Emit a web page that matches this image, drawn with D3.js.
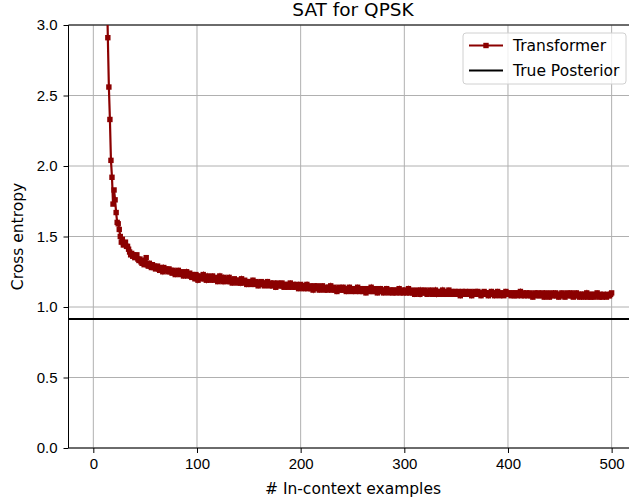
<!DOCTYPE html>
<html>
<head>
<meta charset="utf-8">
<script src="https://cdn.jsdelivr.net/npm/d3@7"></script>
<style>
  body { margin: 0; background: #fff; }
  svg { font-family: "DejaVu Sans", sans-serif; }
</style>
</head>
<body>
<div id="chart"></div>
<script>
// Transformer cross entropy, one value per number of in-context examples (1..500)
const transformerCE = [
  9.80, 8.90, 8.10, 7.30, 6.60, 5.90, 5.30, 4.80, 4.40, 4.05,
  3.75, 3.50, 3.30, 2.91, 2.56, 2.33, 2.04, 1.92, 1.73, 1.83,
  1.76, 1.67, 1.60, 1.59, 1.55, 1.50, 1.46, 1.48, 1.44, 1.45,
  1.46, 1.43, 1.43, 1.41, 1.39, 1.37, 1.38, 1.36, 1.37, 1.35,
  1.36, 1.37, 1.34, 1.33, 1.34, 1.32, 1.31, 1.33, 1.30, 1.31,
  1.35, 1.30, 1.29, 1.31, 1.29, 1.28, 1.30, 1.28, 1.29, 1.27,
  1.28, 1.29, 1.27, 1.26, 1.28, 1.27, 1.25, 1.28, 1.26, 1.27,
  1.26, 1.25, 1.27, 1.25, 1.26, 1.24, 1.26, 1.25, 1.23, 1.25,
  1.24, 1.26, 1.24, 1.23, 1.25, 1.24, 1.22, 1.24, 1.23, 1.25,
  1.22, 1.23, 1.24, 1.22, 1.21, 1.23, 1.22, 1.20, 1.23, 1.22,
  1.19, 1.21, 1.22, 1.20, 1.21, 1.23, 1.20, 1.21, 1.19, 1.22,
  1.20, 1.21, 1.19, 1.20, 1.22, 1.20, 1.19, 1.21, 1.20, 1.18,
  1.20, 1.22, 1.19, 1.20, 1.18, 1.21, 1.19, 1.20, 1.18, 1.19,
  1.21, 1.18, 1.19, 1.17, 1.19, 1.20, 1.18, 1.19, 1.17, 1.18,
  1.19, 1.17, 1.20, 1.18, 1.17, 1.19, 1.18, 1.16, 1.18, 1.17,
  1.18, 1.16, 1.17, 1.19, 1.17, 1.16, 1.18, 1.17, 1.15, 1.17,
  1.16, 1.18, 1.17, 1.16, 1.15, 1.17, 1.16, 1.18, 1.16, 1.15,
  1.17, 1.16, 1.15, 1.17, 1.16, 1.14, 1.16, 1.17, 1.15, 1.16,
  1.15, 1.17, 1.15, 1.14, 1.16, 1.15, 1.16, 1.14, 1.15, 1.17,
  1.15, 1.14, 1.16, 1.15, 1.14, 1.16, 1.15, 1.13, 1.15, 1.16,
  1.14, 1.15, 1.13, 1.15, 1.14, 1.16, 1.13, 1.14, 1.15, 1.13,
  1.14, 1.12, 1.15, 1.14, 1.13, 1.15, 1.14, 1.12, 1.14, 1.13,
  1.15, 1.13, 1.12, 1.14, 1.13, 1.12, 1.14, 1.13, 1.15, 1.12,
  1.13, 1.14, 1.12, 1.13, 1.11, 1.13, 1.14, 1.12, 1.13, 1.12,
  1.14, 1.12, 1.13, 1.11, 1.13, 1.12, 1.14, 1.12, 1.11, 1.13,
  1.12, 1.13, 1.11, 1.12, 1.14, 1.12, 1.11, 1.13, 1.12, 1.11,
  1.13, 1.12, 1.10, 1.12, 1.13, 1.11, 1.12, 1.14, 1.11, 1.12,
  1.11, 1.13, 1.12, 1.10, 1.12, 1.11, 1.13, 1.11, 1.12, 1.10,
  1.12, 1.11, 1.13, 1.11, 1.10, 1.12, 1.11, 1.12, 1.10, 1.12,
  1.11, 1.10, 1.12, 1.11, 1.13, 1.10, 1.11, 1.12, 1.10, 1.11,
  1.12, 1.10, 1.11, 1.13, 1.10, 1.11, 1.12, 1.10, 1.11, 1.09,
  1.11, 1.12, 1.10, 1.11, 1.09, 1.12, 1.10, 1.11, 1.10, 1.12,
  1.10, 1.09, 1.11, 1.10, 1.12, 1.10, 1.09, 1.11, 1.10, 1.12,
  1.09, 1.11, 1.10, 1.09, 1.11, 1.10, 1.12, 1.09, 1.10, 1.11,
  1.09, 1.10, 1.12, 1.10, 1.09, 1.11, 1.10, 1.09, 1.11, 1.10,
  1.09, 1.11, 1.10, 1.08, 1.10, 1.11, 1.09, 1.10, 1.11, 1.09,
  1.10, 1.09, 1.11, 1.10, 1.08, 1.10, 1.09, 1.11, 1.10, 1.09,
  1.11, 1.09, 1.10, 1.08, 1.10, 1.09, 1.11, 1.10, 1.09, 1.10,
  1.08, 1.10, 1.09, 1.11, 1.09, 1.10, 1.08, 1.10, 1.09, 1.11,
  1.09, 1.08, 1.10, 1.09, 1.10, 1.08, 1.09, 1.11, 1.09, 1.10,
  1.09, 1.10, 1.08, 1.09, 1.10, 1.08, 1.10, 1.09, 1.08, 1.10,
  1.09, 1.11, 1.08, 1.09, 1.10, 1.08, 1.09, 1.10, 1.08, 1.09,
  1.10, 1.08, 1.09, 1.07, 1.09, 1.10, 1.08, 1.09, 1.10, 1.08,
  1.09, 1.08, 1.10, 1.09, 1.07, 1.09, 1.10, 1.08, 1.09, 1.07,
  1.09, 1.10, 1.08, 1.09, 1.08, 1.10, 1.08, 1.09, 1.07, 1.09,
  1.08, 1.10, 1.08, 1.09, 1.07, 1.09, 1.10, 1.08, 1.09, 1.08,
  1.10, 1.08, 1.07, 1.09, 1.08, 1.10, 1.08, 1.09, 1.07, 1.09,
  1.08, 1.09, 1.07, 1.09, 1.08, 1.10, 1.07, 1.08, 1.09, 1.07,
  1.09, 1.08, 1.07, 1.09, 1.08, 1.10, 1.08, 1.07, 1.09, 1.08,
  1.07, 1.09, 1.08, 1.08, 1.07, 1.09, 1.08, 1.08, 1.09, 1.10
];
const truePosterior = 0.915;
const xTicks = [0, 100, 200, 300, 400, 500];
const yTicks = [0.0, 0.5, 1.0, 1.5, 2.0, 2.5, 3.0];
const seriesNames = ["Transformer", "True Posterior"];

const W = 629, H = 501;
const margin = { left: 69, top: 25, bottom: 53 };
const data = transformerCE.map((v, i) => ({ n: i + 1, ce: v }));

const svg = d3.select("#chart").append("svg")
    .attr("width", W)
    .attr("height", H);

// x axis runs past the right edge of the picture (cropped figure)
const x = d3.scaleLinear().domain([-23.95, 524.95]).range([68.5, 637.5]);
const y = d3.scaleLinear().domain([0, 3]).range([H - margin.bottom, margin.top]);

svg.append("defs").append("clipPath").attr("id", "clip")
    .append("rect")
    .attr("x", x.range()[0]).attr("y", y(3))
    .attr("width", x.range()[1] - x.range()[0])
    .attr("height", y(0) - y(3));

// grid
const grid = svg.append("g").attr("stroke", "#b0b0b0").attr("stroke-width", 1);
grid.selectAll(".gx").data(xTicks).enter().append("line")
    .attr("x1", d => x(d)).attr("x2", d => x(d))
    .attr("y1", y(0)).attr("y2", y(3));
grid.selectAll(".gy").data(yTicks).enter().append("line")
    .attr("x1", x.range()[0]).attr("x2", x.range()[1])
    .attr("y1", d => y(d)).attr("y2", d => y(d));

// axes
const xAxis = svg.append("g")
    .attr("transform", `translate(0,${y(0)})`)
    .call(d3.axisBottom(x).tickValues(xTicks).tickSize(5).tickPadding(5).tickFormat(d3.format("d")));
const yAxis = svg.append("g")
    .attr("transform", `translate(${x.range()[0]},0)`)
    .call(d3.axisLeft(y).tickValues(yTicks).tickSize(5).tickPadding(6).tickFormat(d3.format(".1f")));
[xAxis, yAxis].forEach(a => {
    a.select(".domain").remove();
    a.selectAll("text").style("font-size", "15px").attr("fill", "#000");
    a.selectAll("line").attr("stroke", "#000");
});

// spines (left, top, bottom)
svg.append("line").attr("x1", x.range()[0]).attr("x2", x.range()[0])
    .attr("y1", y(0)).attr("y2", y(3)).attr("stroke", "#000");
svg.append("line").attr("x1", x.range()[0]).attr("x2", x.range()[1])
    .attr("y1", y(0)).attr("y2", y(0)).attr("stroke", "#000");
svg.append("line").attr("x1", x.range()[0]).attr("x2", x.range()[1])
    .attr("y1", y(3)).attr("y2", y(3)).attr("stroke", "#000");

const plot = svg.append("g").attr("clip-path", "url(#clip)");

// true posterior
plot.append("line")
    .attr("x1", x.range()[0]).attr("x2", x.range()[1])
    .attr("y1", y(truePosterior)).attr("y2", y(truePosterior))
    .attr("stroke", "#000").attr("stroke-width", 2);

// transformer line + square markers
const line = d3.line().x(d => x(d.n)).y(d => y(d.ce));
plot.append("path").datum(data)
    .attr("d", line)
    .attr("fill", "none")
    .attr("stroke", "#8b0000")
    .attr("stroke-width", 2.2);
plot.selectAll(".m").data(data).enter().append("rect")
    .attr("x", d => x(d.n) - 2.7).attr("y", d => y(d.ce) - 2.7)
    .attr("width", 5.4).attr("height", 5.4)
    .attr("fill", "#8b0000");

// labels
svg.append("text")
    .attr("x", (x.range()[0] + x.range()[1]) / 2).attr("y", 16)
    .attr("text-anchor", "middle").style("font-size", "18.5px")
    .text("SAT for QPSK");
svg.append("text")
    .attr("x", (x.range()[0] + x.range()[1]) / 2).attr("y", 494)
    .attr("text-anchor", "middle").style("font-size", "15.5px")
    .text("# In-context examples");
svg.append("text")
    .attr("transform", `translate(23,${(y(0) + y(3)) / 2}) rotate(-90)`)
    .attr("text-anchor", "middle").style("font-size", "15.5px")
    .text("Cross entropy");

// legend
const lg = svg.append("g").attr("transform", "translate(463,33)");
lg.append("rect")
    .attr("width", 163).attr("height", 51).attr("rx", 3)
    .attr("fill", "#fff").attr("fill-opacity", 0.8)
    .attr("stroke", "#d0d0d0");
const lcol = ["#8b0000", "#000"];
seriesNames.forEach((name, i) => {
    const yy = 12.5 + i * 25;
    lg.append("line").attr("x1", 6).attr("x2", 40).attr("y1", yy).attr("y2", yy)
        .attr("stroke", lcol[i]).attr("stroke-width", 2);
    if (i === 0) {
        lg.append("rect").attr("x", 20.3).attr("y", yy - 2.7)
            .attr("width", 5.4).attr("height", 5.4).attr("fill", lcol[i]);
    }
    lg.append("text").attr("x", 50).attr("y", yy + 5.5)
        .style("font-size", "15.5px").text(name);
});
</script>
</body>
</html>
